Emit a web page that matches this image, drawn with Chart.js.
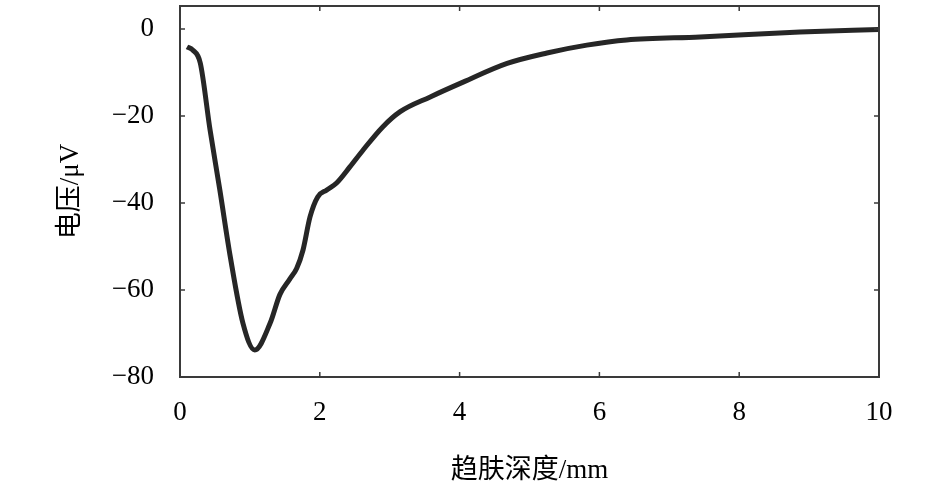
<!DOCTYPE html>
<html>
<head>
<meta charset="utf-8">
<script src="https://cdn.jsdelivr.net/npm/chart.js@4"></script>
<style>
  html, body { margin: 0; padding: 0; background: #fff; }
  #wrap { width: 945px; height: 487px; }
</style>
</head>
<body>
<div id="wrap"><canvas id="chart"></canvas></div>
<script>
// --- data ---
const depth = [0.1, 0.18, 0.29, 0.43, 0.57, 0.72, 0.9, 1.07, 1.29, 1.43, 1.57, 1.67, 1.76, 1.86, 1.97, 2.1, 2.24, 2.43, 2.62, 2.9, 3.15, 3.58, 4.05, 4.68, 5.25, 5.82, 6.39, 7.44, 8.87, 10];
const voltage = [-4.1, -4.8, -7.8, -23.2, -37, -52.4, -67.6, -73.8, -67.6, -61, -57.5, -55, -50.8, -43.2, -38.6, -37, -35.4, -31.7, -27.8, -22.5, -19, -15.6, -12.2, -7.9, -5.5, -3.7, -2.5, -1.8, -0.7, -0.1];
const xTicks = [0, 2, 4, 6, 8, 10];
const yTicks = [-80, -60, -40, -20, 0];

const serif = "'Liberation Serif', 'Noto Sans CJK SC', serif";
const frameColor = '#3a3a3a';

// frame + inward ticks on all four sides
const framePlugin = {
  id: 'frame',
  afterDraw(chart) {
    const { ctx, chartArea: a, scales } = chart;
    ctx.save();
    ctx.strokeStyle = frameColor;
    ctx.lineWidth = 2;
    ctx.strokeRect(a.left, a.top, a.right - a.left, a.bottom - a.top);
    ctx.lineWidth = 1.5;
    ctx.beginPath();
    xTicks.forEach(v => {
      const x = scales.x.getPixelForValue(v);
      ctx.moveTo(x, a.bottom); ctx.lineTo(x, a.bottom - 5);
      ctx.moveTo(x, a.top); ctx.lineTo(x, a.top + 5);
    });
    yTicks.forEach(v => {
      const y = scales.y.getPixelForValue(v);
      ctx.moveTo(a.left, y); ctx.lineTo(a.left + 5, y);
      ctx.moveTo(a.right, y); ctx.lineTo(a.right - 5, y);
    });
    ctx.stroke();
    ctx.restore();
  }
};

new Chart(document.getElementById('chart'), {
  type: 'line',
  data: {
    datasets: [{
      data: depth.map((d, i) => ({ x: d, y: voltage[i] })),
      borderColor: '#262626',
      borderWidth: 5,
      pointRadius: 0,
      cubicInterpolationMode: 'monotone',
      fill: false
    }]
  },
  options: {
    responsive: true,
    maintainAspectRatio: false,
    animation: false,
    layout: { padding: { top: 6, right: 66, left: 0, bottom: 0 } },
    plugins: { legend: { display: false }, tooltip: { enabled: false } },
    scales: {
      x: {
        type: 'linear',
        min: 0, max: 10,
        afterBuildTicks: s => { s.ticks = xTicks.map(v => ({ value: v })); },
        afterFit: s => { s.height = 110; s.paddingLeft = 0; s.paddingRight = 0; },
        grid: { display: false, drawTicks: false },
        border: { display: false },
        ticks: {
          padding: 20,
          color: '#000',
          font: { family: serif, size: 27 },
          maxRotation: 0
        },
        title: {
          display: true,
          text: '趋肤深度/mm',
          color: '#000',
          font: { family: serif, size: 27 },
          padding: { top: 8, bottom: 0 }
        }
      },
      y: {
        type: 'linear',
        min: -80, max: 5.3,
        afterBuildTicks: s => { s.ticks = yTicks.map(v => ({ value: v })); },
        afterFit: s => { s.width = 180; s.paddingTop = 0; s.paddingBottom = 0; },
        grid: { display: false, drawTicks: false },
        border: { display: false },
        ticks: {
          padding: 26,
          color: '#000',
          font: { family: serif, size: 27 },
          callback: v => (v < 0 ? '\u2212' + Math.abs(v) : String(v))
        },
        title: {
          display: true,
          text: '电压/μV',
          color: '#000',
          font: { family: serif, size: 27 },
          padding: { top: 55, bottom: 0 }
        }
      }
    }
  },
  plugins: [framePlugin]
});
</script>
</body>
</html>
